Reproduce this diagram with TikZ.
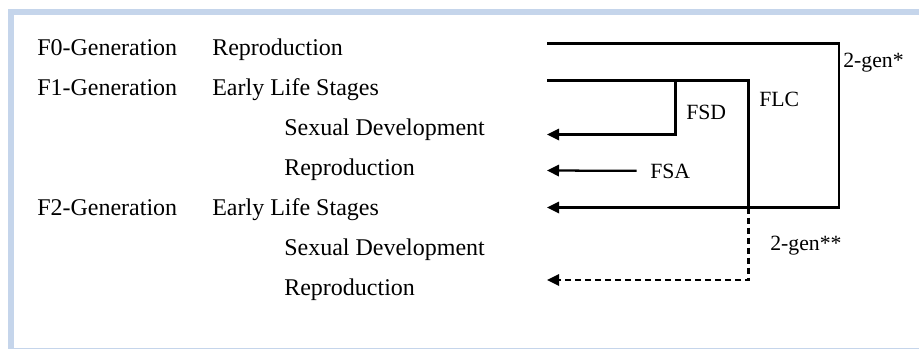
\documentclass[tikz,border=0pt]{standalone}
\usepackage{fontspec}
\setmainfont{Liberation Serif}
\usetikzlibrary{arrows.meta,positioning}
\definecolor{framebl}{RGB}{197,213,235}

\begin{document}
\begin{tikzpicture}
  [
    x=0.75pt, y=-0.75pt,
    Txt/.style={anchor=base west, inner sep=0pt, font=\fontsize{18}{20}\selectfont},
    Lbl/.style={anchor=base west, inner sep=0pt, font=\fontsize{16.3}{18}\selectfont},
    Link/.style={draw, line width=1.7pt},
    Tip/.style={-{Triangle[length=9pt, width=8.5pt]}},
    Frame/.style={fill=framebl, draw=none}
  ]
  \useasboundingbox (0, 0) rectangle (919, 350);
  % Frame
  \path[Frame] (8, 9) rectangle (919, 14.5);
  \path[Frame] (8, 9) rectangle (14, 348);
  \path[draw=framebl, line width=0.75pt] (8, 348.5) -- (919, 348.5);
  % Nodes
  \node[Txt] (f0) at(37, 55) {F0-Generation};
  \node[Txt] (f0rep) at(212, 55) {Reproduction};
  \node[Txt] (f1) at(37, 95) {F1-Generation};
  \node[Txt] (f1els) at(212, 95) {Early Life Stages};
  \node[Txt] (f1sd) at(284, 135) {Sexual Development};
  \node[Txt] (f1rep) at(284, 175) {Reproduction};
  \node[Txt] (f2) at(37, 215) {F2-Generation};
  \node[Txt] (f2els) at(212, 215) {Early Life Stages};
  \node[Txt] (f2sd) at(284, 255) {Sexual Development};
  \node[Txt] (f2rep) at(284, 295) {Reproduction};
  % Labels
  \node[Lbl] (gen2) at(843, 67) {2-gen*};
  \node[Lbl] (flc) at(759, 106) {FLC};
  \node[Lbl] (fsd) at(686, 119) {FSD};
  \node[Lbl] (fsa) at(650, 178) {FSA};
  \node[Lbl] (gen2b) at(770, 250) {2-gen**};
  % Corners
  \coordinate (g2s) at(547, 43.5);
  \coordinate (g2a) at(839, 43.5);
  \coordinate (g2b) at(839, 207.5);
  \coordinate (g2e) at(547, 207.5);
  \coordinate (flcs) at(547, 80.5);
  \coordinate (flca) at(748.5, 80.5);
  \coordinate (flcb) at(748.5, 207.5);
  \coordinate (flcc) at(748.5, 280);
  \coordinate (flce) at(547, 280);
  \coordinate (fsds) at(675.5, 80.5);
  \coordinate (fsda) at(675.5, 134.5);
  \coordinate (fsde) at(547, 134.5);
  \coordinate (fsae) at(547, 170.5);
  % Lines
  \path [Link, Tip] (g2s) -- (g2a) -- (g2b) -- (g2e);
  \path [Link] (flcs) -- (flca) -- (flcb);
  \path [Link, Tip, dash pattern=on 4.5pt off 3pt] (flcb) -- (flcc) -- (flce);
  \path [Link, Tip] (fsds) -- (fsda) -- (fsde);
  \path [Link, Tip, shorten <=10pt] (fsa.west) -- (fsae);
\end{tikzpicture}
\end{document}
